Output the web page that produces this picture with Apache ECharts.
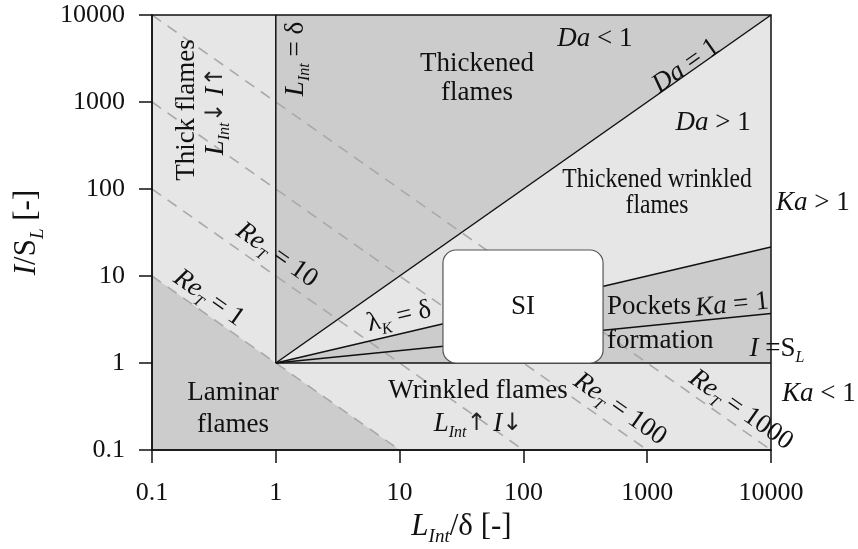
<!DOCTYPE html>
<html><head><meta charset="utf-8">
<script src="https://cdn.jsdelivr.net/npm/echarts@6.0.0/dist/echarts.min.js"></script>
<style>html,body{margin:0;padding:0;background:#fff}#c{width:858px;height:549px}</style>
</head><body><div id="c"></div>
<script>
// ---------- data ----------
const xTickValues = [0.1, 1, 10, 100, 1000, 10000];
const xTickLabels = ['0.1', '1', '10', '100', '1000', '10000'];
const yTickValues = [0.1, 1, 10, 100, 1000, 10000];
const yTickLabels = ['0.1', '1', '10', '100', '1000', '10000'];

// regime regions (L_Int/delta, I/S_L)
const backgroundPoly = [[0.1, 0.1], [10000, 0.1], [10000, 10000], [0.1, 10000]];
const laminarPoly = [[0.1, 0.1], [0.1, 10], [10, 0.1]];
const thickenedPoly = [[1, 1], [1, 10000], [10000, 10000]];
const pocketsPoly = [[1, 1], [10000, 21.5], [10000, 1]];

// Re_T = I*L iso-lines
const reT1 = [[0.1, 10], [10, 0.1]];
const reT10 = [[0.1, 100], [100, 0.1]];
const reT100 = [[0.1, 1000], [1000, 0.1]];
const reT1000 = [[0.1, 10000], [10000, 0.1]];

// solid regime boundaries
const lineLintDelta = [[1, 1], [1, 10000]];
const lineIeqSL = [[1, 1], [10000, 1]];
const lineDa1 = [[1, 1], [10000, 10000]];
const lineLambdaK = [[1, 1], [10000, 21.5]];
const lineKa1 = [[1, 1], [10000, 3.7]];

// SI box: [xMin, yMin, xMax, yMax]
const siBox = [22.4, 1, 440, 19.9];

// annotations (text, anchor in data coords)
const annotations = [
  {t: '{r|Thickened}\n{r|flames}', at: [42.2, 1888], lh: 29},
  {t: '{i|Da}{r| < 1}', at: [378, 5300]},
  {t: '{i|Da}{r| = 1}', at: [2056, 2594], rot: 35.1},
  {t: '{i|Da}{r| > 1}', at: [3404, 574]},
  {t: '{r|Thickened wrinkled}\n{r|flames}', at: [1200, 90], lh: 26, sx: 0.875},
  {t: '{i|Ka}{r| > 1}', at: [21800, 69]},
  {t: '{i|Ka}{r| < 1}', at: [24400, 0.44]},
  {t: '{i|I}{r| =S}{s|L}', at: [11170, 1.45]},
  {t: '{r|Pockets}', at: [473, 4.4], align: 'left'},
  {t: '{r|formation}', at: [473, 1.79], align: 'left'},
  {t: '{i|Ka}{r| = 1}', at: [4840, 4.64], rot: 5.7},
  {t: '{r|SI}', at: [99.4, 4.4]},
  {t: '{r|λ}{s|K}{r| = δ}', at: [9.9, 3.38], rot: 13.2},
  {t: '{i|Re}{s|T}{r| = 10}', at: [1.02, 17.4], rot: -35.1},
  {t: '{i|Re}{s|T}{r| = 1}', at: [0.288, 5.59], rot: -35.1},
  {t: '{i|Re}{s|T}{r| = 100}', at: [603, 0.296], rot: -35.1},
  {t: '{i|Re}{s|T}{r| = 1000}', at: [5730, 0.288], rot: -35.1},
  {t: '{r|Wrinkled flames}', at: [43, 0.476]},
  {t: '{i|L}{s|Int}{a|↑}{r| }{i|I}{a|↓}', at: [43, 0.199]},
  {t: '{r|Laminar}\n{r|flames}', at: [0.451, 0.296], lh: 32},
  {t: '{r|Thick flames}', at: [0.192, 809], rot: 90},
  {t: '{i|L}{s|Int}{a|↓}{r| }{i|I}{a|↑}', at: [0.329, 789], rot: 90},
  {t: '{i|L}{s|Int}{r| = δ}', at: [1.455, 3120], rot: 90}
];

// ---------- rendering ----------
const F = 'Liberation Serif';
const INK = '#111';
const LIGHT = '#e6e6e6', DARK = '#cccccc';
const regionPolys = [backgroundPoly, laminarPoly, thickenedPoly, pocketsPoly];
const regionFills = [LIGHT, DARK, DARK, DARK];

const zrRich = {
  r: {fontFamily: F, fontSize: 27, fill: INK},
  i: {fontFamily: F, fontSize: 27, fontStyle: 'italic', fill: INK},
  a: {fontFamily: 'DejaVu Sans', fontSize: 24, fill: '#222'},
  s: {fontFamily: F, fontSize: 16, fontStyle: 'italic', fill: INK, padding: [18, 0, 0, 0]}
};
const ecRich = {
  r: {fontFamily: F, fontSize: 31, color: INK},
  i: {fontFamily: F, fontSize: 31, fontStyle: 'italic', color: INK},
  s: {fontFamily: F, fontSize: 19, fontStyle: 'italic', color: INK, padding: [22, 0, 0, 0]}
};

function labelFor(values, labels) {
  return function (v) {
    let best = 0, bd = Infinity;
    values.forEach((tv, k) => {
      const d = Math.abs(Math.log10(v) - Math.log10(tv));
      if (d < bd) { bd = d; best = k; }
    });
    return bd < 0.01 ? labels[best] : '';
  };
}

function lineSeries(data, dashed, z) {
  return {
    type: 'line', data: data, symbol: 'none', silent: true, z: z,
    lineStyle: dashed ? {color: '#a9a9a9', width: 1.6, type: [11, 8]} : {color: '#111', width: 1.5},
    animation: false
  };
}

const chart = echarts.init(document.getElementById('c'), null, {renderer: 'canvas'});
chart.setOption({
  animation: false,
  backgroundColor: '#fff',
  grid: {left: 152, right: 87, top: 15, bottom: 99, show: true, borderColor: '#111', borderWidth: 1.5,
         backgroundColor: 'transparent', z: 10, containLabel: false, outerBoundsMode: 'none'},
  xAxis: {
    type: 'log', logBase: 10, min: 0.1, max: 10000, z: 10,
    axisLine: {show: true, lineStyle: {color: '#111', width: 1.5}},
    axisTick: {show: true, length: 13, lineStyle: {color: '#111', width: 1.5}},
    minorTick: {show: false}, splitLine: {show: false},
    axisLabel: {fontFamily: F, fontSize: 26, color: INK, margin: 30, formatter: labelFor(xTickValues, xTickLabels)},
    name: '{i|L}{s|Int}{r|/δ [-]}', nameLocation: 'middle', nameGap: 50,
    nameTextStyle: {rich: ecRich}
  },
  yAxis: {
    type: 'log', logBase: 10, min: 0.1, max: 10000, z: 10,
    axisLine: {show: true, lineStyle: {color: '#111', width: 1.5}},
    axisTick: {show: true, length: 13, lineStyle: {color: '#111', width: 1.5}},
    minorTick: {show: false}, splitLine: {show: false},
    axisLabel: {fontFamily: F, fontSize: 26, color: INK, margin: 27, formatter: labelFor(yTickValues, yTickLabels)},
    name: '{i|I}{r|/S}{s|L}{r| [-]}', nameLocation: 'middle', nameGap: 105, nameRotate: 90,
    nameTextStyle: {rich: ecRich}
  },
  series: [
    {
      type: 'custom', z: 1, silent: true, clip: false,
      data: regionPolys.map(p => p[0]),
      encode: {x: 0, y: 1},
      renderItem: function (params, api) {
        const poly = regionPolys[params.dataIndex];
        return {type: 'polygon', shape: {points: poly.map(p => api.coord(p))},
                style: {fill: regionFills[params.dataIndex], stroke: null}};
      }
    },
    lineSeries(reT1, true, 2),
    lineSeries(reT10, true, 2),
    lineSeries(reT100, true, 2),
    lineSeries(reT1000, true, 2),
    lineSeries(lineLintDelta, false, 3),
    lineSeries(lineIeqSL, false, 3),
    lineSeries(lineDa1, false, 3),
    lineSeries(lineLambdaK, false, 3),
    lineSeries(lineKa1, false, 3),
    {
      type: 'custom', z: 4, silent: true, clip: false,
      data: [siBox], encode: {x: [0, 2], y: [1, 3]},
      renderItem: function (params, api) {
        const a = api.coord([api.value(0), api.value(3)]);
        const b = api.coord([api.value(2), api.value(1)]);
        return {type: 'rect', shape: {x: a[0], y: a[1], width: b[0] - a[0], height: b[1] - a[1], r: 13},
                style: {fill: '#fff', stroke: '#555', lineWidth: 1.2}};
      }
    },
    {
      type: 'custom', z: 5, silent: true, clip: false,
      data: annotations.map(a => a.at), encode: {x: 0, y: 1},
      renderItem: function (params, api) {
        const a = annotations[params.dataIndex];
        const p = api.coord(a.at);
        const style = {text: a.t, rich: zrRich, align: a.align || 'center', verticalAlign: 'middle',
                       fill: INK, fontFamily: F, fontSize: 27};
        if (a.lh) style.lineHeight = a.lh;
        return {type: 'text', x: p[0], y: p[1], rotation: (a.rot || 0) * Math.PI / 180,
                scaleX: a.sx || 1, style: style};
      }
    }
  ]
});
</script>
</body></html>
